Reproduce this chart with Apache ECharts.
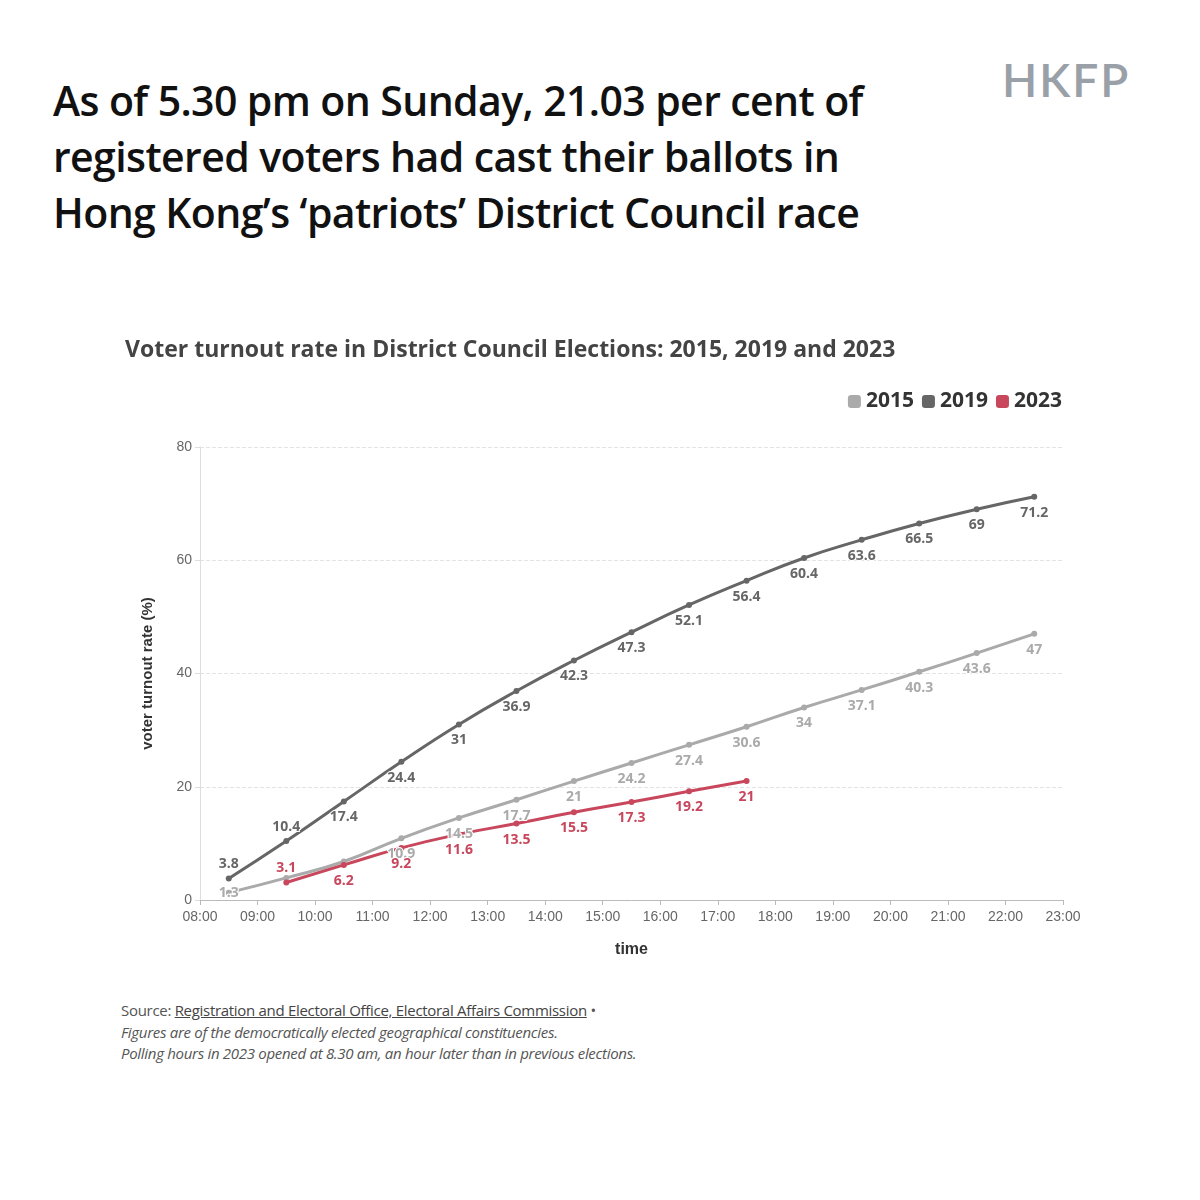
<!DOCTYPE html>
<html><head><meta charset="utf-8">
<script src="https://cdn.jsdelivr.net/npm/echarts@6/dist/echarts.min.js"></script>
<style>
body{margin:0;width:1200px;height:1200px;background:#fff;font-family:"Open Sans","Noto Sans",sans-serif;position:relative;overflow:hidden}
#h{position:absolute;left:53px;top:72px;font-size:41px;font-weight:600;line-height:56px;color:#111;letter-spacing:-0.6px;white-space:nowrap}
#logo{position:absolute;left:1002px;top:52px;font-size:46px;font-weight:600;color:#9aa0a8;letter-spacing:2px;font-family:"Lato",sans-serif}
#c{position:absolute;left:0;top:320px;width:1200px;height:680px}
#src{position:absolute;left:121px;top:1000px;font-size:15px;color:#555;line-height:21.5px;font-family:"Open Sans",sans-serif;letter-spacing:-0.3px}
#src u{color:#444}
</style></head><body>
<div id="h">As of 5.30 pm on Sunday, 21.03 per cent of<br>registered voters had cast their ballots in<br>Hong Kong’s ‘patriots’ District Council race</div>
<div id="logo">HKFP</div>
<div id="c"></div>
<div id="src">Source: <u>Registration and Electoral Office, Electoral Affairs Commission</u> •<br><i>Figures are of the democratically elected geographical constituencies.</i><br><i>Polling hours in 2023 opened at 8.30 am, an hour later than in previous elections.</i></div>
<script>
const hours=[8.5,9.5,10.5,11.5,12.5,13.5,14.5,15.5,16.5,17.5,18.5,19.5,20.5,21.5,22.5];
const s2015=[1.3,3.9,6.8,10.9,14.5,17.7,21,24.2,27.4,30.6,34,37.1,40.3,43.6,47];
const s2019=[3.8,10.4,17.4,24.4,31,36.9,42.3,47.3,52.1,56.4,60.4,63.6,66.5,69,71.2];
const h2023=[9.5,10.5,11.5,12.5,13.5,14.5,15.5,16.5,17.5];
const s2023=[3.1,6.2,9.2,11.6,13.5,15.5,17.3,19.2,21];
const hide2015=[1,2];
const ch=echarts.init(document.getElementById('c'));
function ser(name,xs,ys,col,hide,top,inside){
 return {name,type:'line',smooth:true,data:xs.map((x,i)=>{
   const lb={show:!(hide||[]).includes(i)};
   if((top||[]).includes(i)){lb.position='top';lb.distance=4;}
   if((inside||[]).includes(i)){lb.position='inside';}
   return {value:[x,ys[i]],label:lb};}),
 symbol:'circle',symbolSize:6,lineStyle:{color:col,width:3},itemStyle:{color:col},
 label:{position:'bottom',distance:6,color:col,fontSize:14,fontWeight:'bold',fontFamily:'Open Sans',textBorderColor:'#fff',textBorderWidth:2,formatter:p=>p.value[1]}};
}
ch.setOption({
 animation:false,
 title:{text:'Voter turnout rate in District Council Elections: 2015, 2019 and 2023',left:120,top:14,textStyle:{fontSize:23,fontWeight:'bold',color:'#444',fontFamily:'Open Sans'}},
 legend:{right:133,top:66,icon:'roundRect',itemWidth:13,itemHeight:13,itemGap:8,textStyle:{fontSize:21,fontWeight:'bold',color:'#333',fontFamily:'Open Sans'},data:['2015','2019','2023']},
 grid:{left:200,right:137,top:127,bottom:100},
 xAxis:{type:'value',min:8,max:23,interval:1,name:'time',nameLocation:'middle',nameGap:42,nameTextStyle:{fontSize:16,fontWeight:'bold',color:'#333'},
  axisLine:{lineStyle:{color:'#bbb'}},axisTick:{show:true,lineStyle:{color:'#bbb'}},splitLine:{show:false},
  axisLabel:{color:'#666',fontSize:14,margin:10,formatter:v=>String(v).padStart(2,'0')+':00'}},
 yAxis:{type:'value',min:0,max:80,interval:20,name:'voter turnout rate (%)',nameLocation:'middle',nameGap:45,nameTextStyle:{fontSize:15,fontWeight:'bold',color:'#333'},
  axisLine:{show:true,lineStyle:{color:'#ddd'}},axisLabel:{color:'#666',fontSize:14},splitLine:{lineStyle:{type:'dashed',color:'#e3e3e3'}}},
 series:[ser('2015',hours,s2015,'#aaaaaa',hide2015,[],[0]),ser('2019',hours,s2019,'#666666',[],[0,1]),ser('2023',h2023,s2023,'#c8475c',[],[0])]
});
</script></body></html>
